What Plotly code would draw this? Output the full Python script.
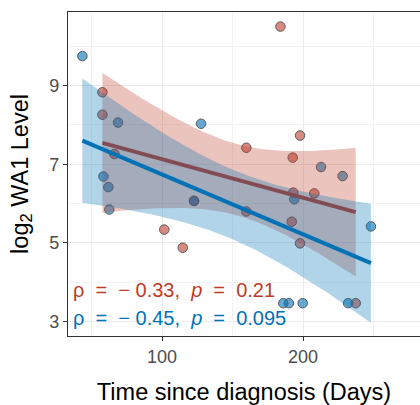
import numpy as np
import plotly.graph_objects as go

# ---- data ----
red_days = [57.7, 57.7, 66.2, 101.6, 114.7, 159.8, 197.9, 192.7, 159.8, 193.1,
            192.0, 197.9, 208.0, 237.4, 184.0, 122.7]
red_level = [8.83, 8.26, 7.26, 5.34, 4.88, 7.42, 7.73, 7.17, 5.80, 6.28,
             5.54, 4.99, 6.26, 3.47, 10.50, 6.07]
blue_days = [43.5, 68.8, 58.4, 61.9, 62.6, 122.7, 127.7, 193.8, 212.8, 228.1,
             248.2, 190.0, 199.8, 232.0, 186.0]
blue_level = [9.75, 8.06, 6.69, 6.42, 5.85, 6.07, 8.03, 6.11, 6.93, 6.70,
              5.42, 3.47, 3.47, 3.47, 3.47]
NB = "\u00a0"
red_label = f"ρ{NB*2}={NB*2}−{NB}0.33,{NB*2}<i>p</i>{NB*2}={NB*2}0.21"
blue_label = f"ρ{NB*2}={NB*2}−{NB}0.45,{NB*2}<i>p</i>{NB*2}={NB*2}0.095"
x_tick_vals = [100, 200]
y_tick_vals = [3, 5, 7, 9]
# 95% t critical values for df = n - 2 (as used by geom_smooth(method = "lm"))
T_CRIT = {13: 2.160369, 14: 2.144787}

RED = "#BC3C29"
BLUE = "#0072B5"
FONT = "Liberation Sans, Arial, sans-serif"


def lm_band(x, y, n_grid=80):
    x = np.asarray(x, float)
    y = np.asarray(y, float)
    n = len(x)
    xm, ym = x.mean(), y.mean()
    sxx = ((x - xm) ** 2).sum()
    b = ((x - xm) * (y - ym)).sum() / sxx
    a = ym - b * xm
    s = np.sqrt(((y - (a + b * x)) ** 2).sum() / (n - 2))
    g = np.linspace(x.min(), x.max(), n_grid)
    fit = a + b * g
    se = s * np.sqrt(1 / n + (g - xm) ** 2 / sxx)
    t = T_CRIT[n - 2]
    return g, fit, fit - t * se, fit + t * se


fig = go.Figure()

fig.add_trace(go.Scatter(x=red_days, y=red_level, mode="markers",
                         marker=dict(size=9.5, color="rgba(188,60,41,0.6)",
                                     line=dict(color="#5A5A5A", width=1)),
                         showlegend=False, hoverinfo="skip"))
fig.add_trace(go.Scatter(x=blue_days, y=blue_level, mode="markers",
                         marker=dict(size=9.5, color="rgba(0,114,181,0.6)",
                                     line=dict(color="#5A5A5A", width=1)),
                         showlegend=False, hoverinfo="skip"))

for xs, ys, col, rgba in [(red_days, red_level, RED, "rgba(188,60,41,0.3)"),
                          (blue_days, blue_level, BLUE, "rgba(0,114,181,0.3)")]:
    g, fit, lo, hi = lm_band(xs, ys)
    fig.add_trace(go.Scatter(x=np.concatenate([g, g[::-1]]),
                             y=np.concatenate([hi, lo[::-1]]),
                             mode="lines", fill="toself", fillcolor=rgba,
                             line=dict(width=0), showlegend=False, hoverinfo="skip"))
    fig.add_trace(go.Scatter(x=g, y=fit, mode="lines",
                             line=dict(color=col, width=4),
                             showlegend=False, hoverinfo="skip"))

fig.add_annotation(x=0.008, y=0.142, xref="paper", yref="paper", xanchor="left",
                   yanchor="middle", text=red_label, showarrow=False,
                   font=dict(size=20, color=RED, family=FONT))
fig.add_annotation(x=0.008, y=0.056, xref="paper", yref="paper", xanchor="left",
                   yanchor="middle", text=blue_label, showarrow=False,
                   font=dict(size=20, color=BLUE, family=FONT))

fig.update_layout(
    width=420, height=405,
    margin=dict(l=68, r=0, t=12, b=69),
    plot_bgcolor="white", paper_bgcolor="white",
    font=dict(family=FONT),
)
fig.update_xaxes(
    range=[33.3, 283], tickvals=x_tick_vals, ticks="outside", ticklen=4,
    tickcolor="#333333", tickwidth=1.1,
    showline=True, linecolor="#333333", linewidth=1.3, mirror=True,
    showgrid=True, gridcolor="#EBEBEB", gridwidth=1.3, zeroline=False,
    minor=dict(tick0=0, dtick=50, showgrid=True, gridcolor="#F2F2F2", gridwidth=0.8),
    tickfont=dict(size=18, color="#4D4D4D"),
    title=dict(text="Time since diagnosis (Days)", font=dict(size=23.5, color="black"),
               standoff=17),
)
fig.update_yaxes(
    range=[2.636, 10.87], tickvals=y_tick_vals, ticks="outside", ticklen=4,
    tickcolor="#333333", tickwidth=1.1,
    showline=True, linecolor="#333333", linewidth=1.3, mirror=False,
    showgrid=True, gridcolor="#EBEBEB", gridwidth=1.3, zeroline=False,
    minor=dict(tick0=0, dtick=1, showgrid=True, gridcolor="#F2F2F2", gridwidth=0.8),
    tickfont=dict(size=18, color="#4D4D4D"),
    title=dict(text="log<sub>2</sub> WA1 Level", font=dict(size=23.5, color="black"),
               standoff=14),
)

fig.write_html("out.html")
